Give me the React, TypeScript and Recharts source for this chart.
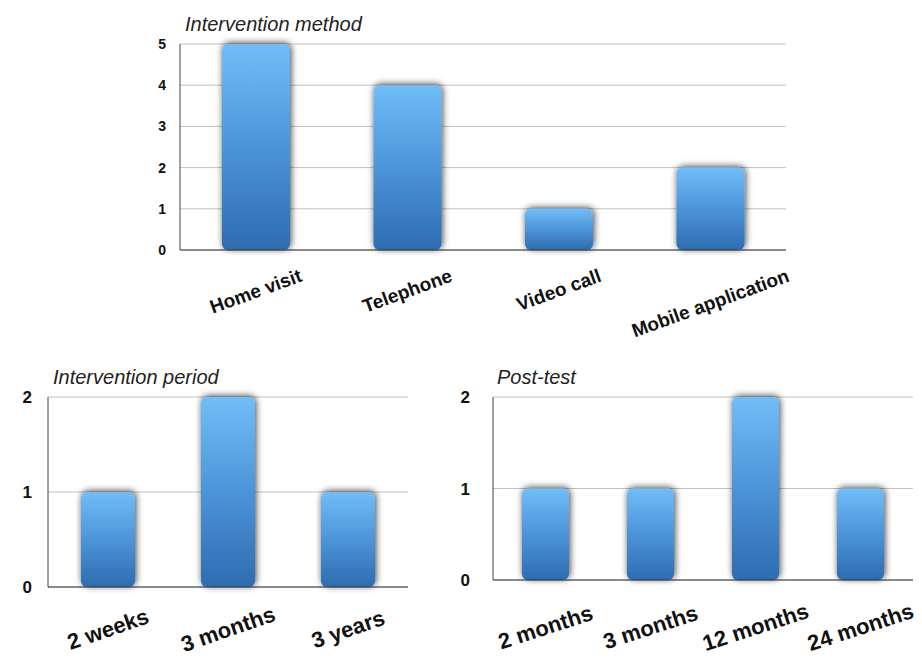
// Three Keynote-style bar charts: intervention method, period, post-test.
import { BarChart, Bar, XAxis, YAxis, CartesianGrid } from "recharts";

const methodLabels = ["Home visit", "Telephone", "Video call", "Mobile application"];
const methodCounts = [5, 4, 1, 2];
const methodTicks = [0, 1, 2, 3, 4, 5];

const periodLabels = ["2 weeks", "3 months", "3 years"];
const periodCounts = [1, 2, 1];

const postLabels = ["2 months", "3 months", "12 months", "24 months"];
const postCounts = [1, 1, 2, 1];

const smallTicks = [0, 1, 2];

const FONT = '"Liberation Sans", Arial, Helvetica, sans-serif';

let ctx: CanvasRenderingContext2D | null = null;
function measure(text: string, size: number) {
  if (!ctx) ctx = document.createElement("canvas").getContext("2d");
  if (!ctx) return text.length * size * 0.55;
  ctx.font = `bold ${size}px ${FONT}`;
  return ctx.measureText(text).width;
}

// rotated label centred on the band; "top" keeps the top edge `gap` px below
// the axis, otherwise the label's centre sits `gap` px below it
function SlantTick(props: any) {
  const { x, y, payload, angle, size, gap, mode } = props;
  const label = String(payload.value);
  let cy = y + gap;
  if (mode === "top") {
    const w = measure(label, size);
    const rad = (angle * Math.PI) / 180;
    const h = size * 0.75;
    cy += (w * Math.sin(rad) + h * Math.cos(rad)) / 2;
  }
  return (
    <text
      x={x}
      y={cy}
      dy="0.35em"
      textAnchor="middle"
      transform={`rotate(${-angle} ${x} ${cy})`}
      fontFamily={FONT}
      fontWeight="bold"
      fontSize={size}
      fill="#111"
    >
      {label}
    </text>
  );
}

const toRows = (labels: string[], values: number[]) =>
  labels.map((name, i) => ({ name, value: values[i] }));

const titleStyle = (left: number, top: number): React.CSSProperties => ({
  position: "absolute",
  left,
  top,
  fontFamily: FONT,
  fontStyle: "italic",
  fontSize: 20,
  lineHeight: 1,
  color: "#222",
  whiteSpace: "nowrap",
});

interface PanelProps {
  data: { name: string; value: number }[];
  width: number;
  height: number;
  margin: { top: number; right: number; left: number; bottom: number };
  yWidth: number;
  yTicks: number[];
  yFont: number;
  yGap: number;
  xHeight: number;
  barSize: number;
  angle: number;
  xFont: number;
  xGap: number;
  mode: "top" | "center";
}

function Panel(p: PanelProps) {
  const max = p.yTicks[p.yTicks.length - 1];
  return (
    <BarChart width={p.width} height={p.height} data={p.data} margin={p.margin}>
      <CartesianGrid vertical={false} stroke="#c2c2c2" />
      <XAxis
        dataKey="name"
        height={p.xHeight}
        axisLine={{ stroke: "#333" }}
        tickLine={false}
        tickSize={0}
        tickMargin={0}
        interval={0}
        tick={<SlantTick angle={p.angle} size={p.xFont} gap={p.xGap} mode={p.mode} />}
      />
      <YAxis
        width={p.yWidth}
        domain={[0, max]}
        ticks={p.yTicks}
        axisLine={{ stroke: "#444" }}
        tickLine={false}
        tickSize={0}
        tickMargin={p.yGap}
        tick={{ fontFamily: FONT, fontWeight: "bold", fontSize: p.yFont, fill: "#111" }}
      />
      <Bar
        dataKey="value"
        barSize={p.barSize}
        radius={6}
        fill="url(#barFill)"
        filter="url(#barShadow)"
        isAnimationActive={false}
      />
    </BarChart>
  );
}

export default function App() {
  return (
    <div style={{ position: "absolute", left: 0, top: 0, width: 922, height: 658, background: "#fff" }}>
      <svg width={0} height={0} style={{ position: "absolute" }}>
        <defs>
          <linearGradient id="barFill" x1="0" y1="0" x2="0" y2="1">
            <stop offset="0%" stopColor="#71bdf7" />
            <stop offset="50%" stopColor="#4c94d8" />
            <stop offset="100%" stopColor="#2e6cb1" />
          </linearGradient>
          <filter id="barShadow" x="-30%" y="-30%" width="160%" height="160%">
            <feDropShadow dx="1" dy="-1" stdDeviation="3.5" floodColor="#000" floodOpacity="0.75" />
          </filter>
        </defs>
      </svg>

      <div style={titleStyle(185, 14)}>Intervention method</div>
      <div style={{ position: "absolute", left: 0, top: 0 }}>
        <Panel
          data={toRows(methodLabels, methodCounts)}
          width={922}
          height={360}
          margin={{ top: 44, right: 136, left: 140, bottom: 0 }}
          yWidth={40}
          yTicks={methodTicks}
          yFont={14}
          yGap={14}
          xHeight={110}
          barSize={68}
          angle={20}
          xFont={19}
          xGap={18}
          mode="top"
        />
      </div>

      <div style={titleStyle(53, 367)}>Intervention period</div>
      <div style={{ position: "absolute", left: 0, top: 360 }}>
        <Panel
          data={toRows(periodLabels, periodCounts)}
          width={420}
          height={298}
          margin={{ top: 37, right: 12, left: 8, bottom: 0 }}
          yWidth={40}
          yTicks={smallTicks}
          yFont={17}
          yGap={16}
          xHeight={71}
          barSize={54}
          angle={19}
          xFont={22}
          xGap={42}
          mode="center"
        />
      </div>

      <div style={titleStyle(497, 367)}>Post-test</div>
      <div style={{ position: "absolute", left: 460, top: 360 }}>
        <Panel
          data={toRows(postLabels, postCounts)}
          width={462}
          height={298}
          margin={{ top: 37, right: 9, left: 3, bottom: 0 }}
          yWidth={30}
          yTicks={smallTicks}
          yFont={17}
          yGap={23}
          xHeight={78}
          barSize={47}
          angle={18}
          xFont={22}
          xGap={47}
          mode="center"
        />
      </div>
    </div>
  );
}
